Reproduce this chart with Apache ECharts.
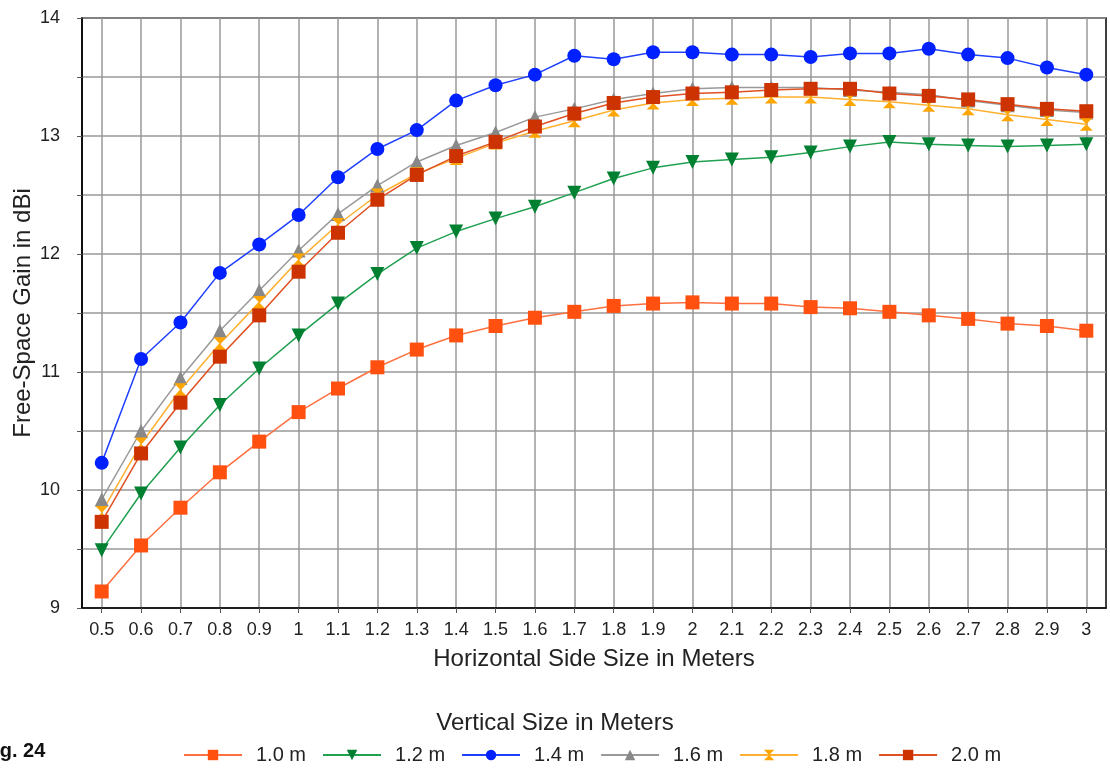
<!DOCTYPE html>
<html><head><meta charset="utf-8">
<script src="https://cdn.jsdelivr.net/npm/echarts@6/dist/echarts.min.js"></script>
<style>html,body{margin:0;padding:0;background:#fff}#c{width:1110px;height:770px}</style>
</head><body><div id="c"></div>
<script>
const xs = [0.5,0.6,0.7,0.8,0.9,1.0,1.1,1.2,1.3,1.4,1.5,1.6,1.7,1.8,1.9,2.0,2.1,2.2,2.3,2.4,2.5,2.6,2.7,2.8,2.9,3.0];
const v10 = [9.14,9.53,9.85,10.15,10.41,10.66,10.86,11.04,11.19,11.31,11.39,11.46,11.51,11.56,11.58,11.59,11.58,11.58,11.55,11.54,11.51,11.48,11.45,11.41,11.39,11.35];
const v12 = [9.49,9.97,10.36,10.72,11.03,11.31,11.58,11.83,12.05,12.19,12.30,12.40,12.52,12.64,12.73,12.78,12.80,12.82,12.86,12.91,12.95,12.93,12.92,12.91,12.92,12.93];
const v14 = [10.23,11.11,11.42,11.84,12.08,12.33,12.65,12.89,13.05,13.30,13.43,13.52,13.68,13.65,13.71,13.71,13.69,13.69,13.67,13.70,13.70,13.74,13.69,13.66,13.58,13.52];
const v16 = [9.92,10.50,10.95,11.35,11.69,12.03,12.34,12.58,12.78,12.92,13.03,13.16,13.23,13.31,13.36,13.40,13.41,13.41,13.41,13.39,13.37,13.35,13.30,13.26,13.22,13.20];
const v18 = [9.81,10.39,10.85,11.24,11.59,11.95,12.25,12.50,12.68,12.81,12.94,13.04,13.13,13.22,13.28,13.31,13.32,13.33,13.33,13.31,13.29,13.26,13.23,13.18,13.14,13.10];
const v20 = [9.73,10.31,10.74,11.13,11.48,11.85,12.18,12.46,12.67,12.83,12.95,13.08,13.19,13.28,13.33,13.36,13.37,13.39,13.40,13.40,13.36,13.34,13.31,13.27,13.23,13.21];
const names = ['1.0 m','1.2 m','1.4 m','1.6 m','1.8 m','2.0 m'];

const FONT = 'Liberation Sans';
const hourglass = 'path://M0,0 L10,0 L5,5 L10,10 L0,10 L5,5 Z';
function mk(name, vals, lineColor, markColor, symbol, size, rot){
  return {
    name, type:'line', data: xs.map((x,i)=>[x, vals[i]]),
    symbol, symbolSize: size, symbolRotate: rot||0, showSymbol:true,
    lineStyle:{color: lineColor, width:1.5},
    itemStyle:{color: markColor},
    emphasis:{disabled:true}, animation:false
  };
}
const chart = echarts.init(document.getElementById('c'));
chart.setOption({
  animation:false,
  backgroundColor:'#fff',
  textStyle:{fontFamily:FONT},
  grid:{left:82, top:18, right:4, bottom:162, show:true, borderColor:'#000', borderWidth:1.5, backgroundColor:'transparent', containLabel:false, outerBoundsMode:'none'},
  xAxis:{
    type:'value', min:0.45, max:3.05,
    name:'Horizontal Side Size in Meters', nameLocation:'middle', nameGap:39, nameMoveOverlap:false,
    nameTextStyle:{fontSize:24, color:'#222', fontFamily:FONT},
    axisLine:{lineStyle:{color:'#000', width:1.5}},
    axisTick:{show:true, length:5, lineStyle:{color:'#555'}, customValues: xs},
    axisLabel:{fontSize:18, color:'#222', margin:13, customValues: xs,
      formatter:v=>String(Math.round(v*10)/10)},
    splitLine:{show:true, lineStyle:{color:'#999', width:1.5}}
  },
  yAxis:{
    type:'value', min:9, max:14, interval:0.5,
    name:'Free-Space Gain in dBi', nameLocation:'middle', nameGap:47, nameMoveOverlap:false,
    nameTextStyle:{fontSize:24, color:'#222', fontFamily:FONT},
    axisLine:{show:true, lineStyle:{color:'#000', width:1.5}},
    axisTick:{show:true, length:5, lineStyle:{color:'#555'}},
    axisLabel:{fontSize:18, color:'#222', margin:22,
      formatter:v=>Number.isInteger(v)?String(v):''},
    splitLine:{show:true, lineStyle:{color:'#999', width:1.5}}
  },
  title:[{text:'Vertical Size in Meters', left:'center', top:706,
    textStyle:{fontSize:24, fontWeight:'normal', color:'#222', fontFamily:FONT}}],
  graphic:[{type:'text', left:-18, top:741, style:{text:'Fig. 24', font:'bold 20px "Liberation Sans"', fill:'#111'}}],
  legend:{data:names, left:178, top:740, itemWidth:58, itemHeight:13, itemGap:16,
    textStyle:{fontSize:20, color:'#222', fontFamily:FONT, padding:[0,0,0,9]}},
  series:[
    mk(names[0], v10, '#FF7040', '#FF5010', 'rect', 14),
    mk(names[1], v12, '#20A050', '#008030', 'triangle', 14, 180),
    mk(names[2], v14, '#2040FF', '#0020FF', 'circle', 14),
    mk(names[3], v16, '#999999', '#888888', 'triangle', 14),
    mk(names[4], v18, '#FFB030', '#FFA500', hourglass, 13),
    mk(names[5], v20, '#E05020', '#CC3300', 'rect', 14)
  ]
});
</script></body></html>
